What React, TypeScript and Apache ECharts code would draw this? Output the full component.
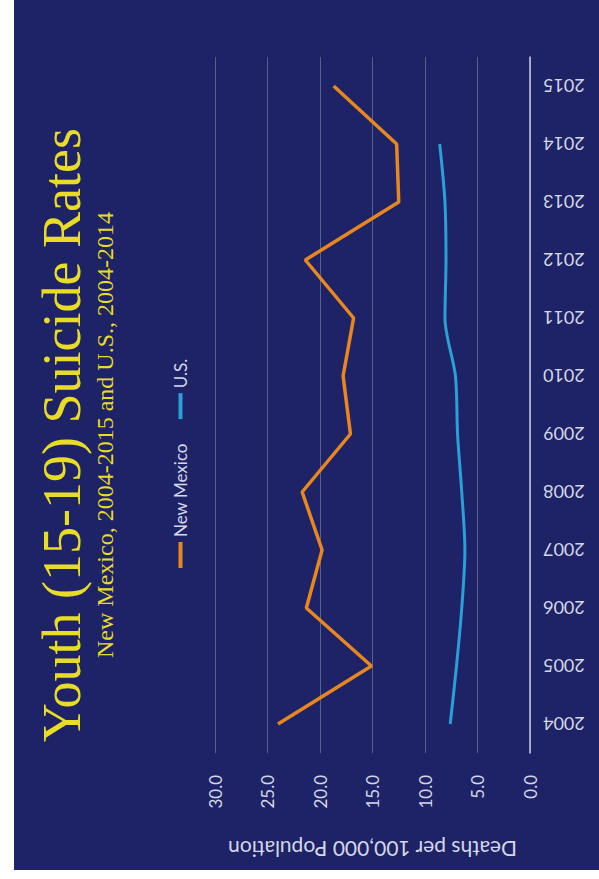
import React, { useEffect, useRef } from "react";
import * as echarts from "echarts";

const years = ["2004", "2005", "2006", "2007", "2008", "2009", "2010", "2011", "2012", "2013", "2014", "2015"];
const newMexico = [24.0, 15.1, 21.3, 19.8, 21.7, 17.1, 17.8, 16.8, 21.4, 12.5, 12.7, 18.7];
const unitedStates = [7.6, 7.0, 6.5, 6.2, 6.5, 6.9, 7.1, 8.1, 8.0, 8.1, 8.6, null];
const valueTicks = { min: 0, max: 30, interval: 5 };

const titleText = "Youth (15-19) Suicide Rates";
const subtitleText = "New Mexico, 2004-2015 and U.S., 2004-2014";
const axisTitle = "Deaths per 100,000 Population";

// The slide is laid out landscape and then turned a quarter turn counter-clockwise.
const SLIDE_W = 870;
const SLIDE_H = 585;

export default function App() {
  const ref = useRef<HTMLDivElement>(null);

  useEffect(() => {
    if (!ref.current) return;
    const chart = echarts.init(ref.current, null, { renderer: "svg" });
    const labelColor = "#d4d7e4";
    chart.setOption({
      animation: false,
      backgroundColor: "#1e2267",
      title: [
        {
          text: titleText,
          left: "center",
          top: 16,
          textStyle: {
            fontFamily: "Liberation Serif",
            fontWeight: "normal",
            fontSize: 54,
            color: "#e9dc25",
          },
        },
        {
          text: subtitleText,
          left: "center",
          top: 74,
          textStyle: {
            fontFamily: "Liberation Serif",
            fontWeight: "normal",
            fontSize: 24,
            color: "#e9dc25",
          },
        },
      ],
      legend: {
        left: 297,
        top: 153,
        icon: "rect",
        itemWidth: 26,
        itemHeight: 4,
        itemGap: 24,
        textStyle: { color: labelColor, fontFamily: "Lato", fontSize: 17 },
        data: ["New Mexico", "U.S."],
      },
      grid: { left: 117, right: 57, top: 201, bottom: 69, containLabel: false },
      xAxis: {
        type: "category",
        data: years,
        boundaryGap: true,
        axisLine: { show: true, lineStyle: { color: "#c9cbdb", width: 1.5 } },
        axisTick: { show: false },
        axisLabel: {
          rotate: 90,
          margin: 13,
          color: labelColor,
          fontFamily: "Lato",
          fontSize: 18,
        },
      },
      yAxis: {
        type: "value",
        min: valueTicks.min,
        max: valueTicks.max,
        interval: valueTicks.interval,
        name: axisTitle,
        nameLocation: "middle",
        nameGap: 86,
        nameTextStyle: { color: labelColor, fontFamily: "Lato", fontSize: 21 },
        axisLine: { show: false },
        axisTick: { show: false },
        axisLabel: {
          margin: 22,
          color: labelColor,
          fontFamily: "Lato",
          fontSize: 17,
          formatter: (v: number) => v.toFixed(1),
        },
        splitLine: { lineStyle: { color: "#57618a", width: 1 } },
      },
      series: [
        {
          name: "New Mexico",
          type: "line",
          data: newMexico,
          symbol: "none",
          lineStyle: { color: "#e8871e", width: 3.5 },
          itemStyle: { color: "#e8871e" },
        },
        {
          name: "U.S.",
          type: "line",
          data: unitedStates,
          symbol: "none",
          smooth: 0.3,
          lineStyle: { color: "#2b9fd8", width: 3 },
          itemStyle: { color: "#2b9fd8" },
        },
      ],
    });
    return () => chart.dispose();
  }, []);

  return (
    <div
      style={{
        position: "fixed",
        left: 0,
        top: 0,
        width: 599,
        height: 879,
        background: "#ffffff",
        overflow: "hidden",
      }}
    >
      <div
        ref={ref}
        style={{
          position: "absolute",
          left: 14,
          top: 870,
          width: SLIDE_W,
          height: SLIDE_H,
          transformOrigin: "0 0",
          transform: "rotate(-90deg)",
        }}
      />
    </div>
  );
}
